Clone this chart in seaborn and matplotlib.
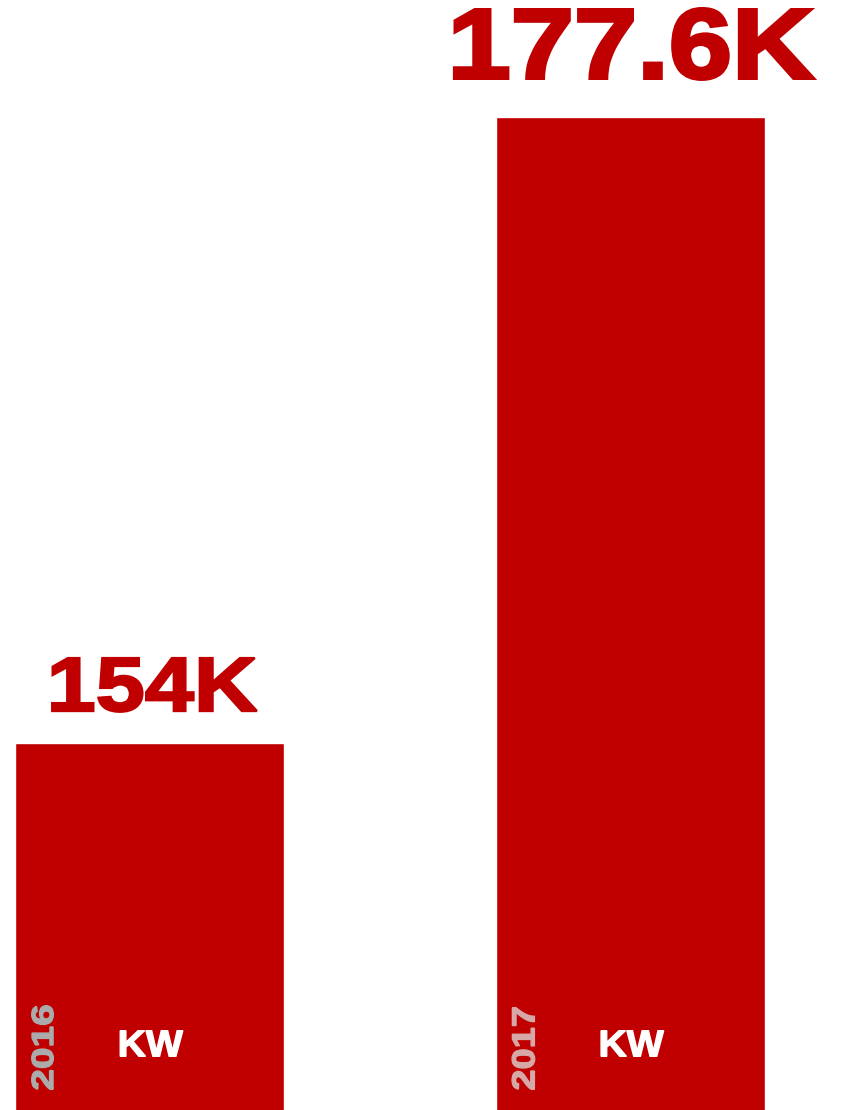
import matplotlib
matplotlib.use("Agg")
import matplotlib.pyplot as plt
import matplotlib.transforms as mtransforms
from matplotlib.font_manager import FontProperties
from matplotlib.patches import PathPatch
from matplotlib.textpath import TextPath
import pandas as pd
import seaborn as sns

# data
years = ["2016", "2017"]
values = [154.0, 177.6]          # thousands of kW
value_labels = ["154K", "177.6K"]
unit_label = "KW"

RED = "#C00000"
YEAR_COLORS = ["#ABABAB", "#D6A8A8"]

df = pd.DataFrame({"year": years, "kw": values})

sns.set_theme(style="white")
plt.rcParams["font.family"] = ["Liberation Sans", "DejaVu Sans"]

fig = plt.figure(figsize=(8.41, 11.10), dpi=100)
ax = fig.add_axes([0, 0, 1, 1])

sns.barplot(data=df, x="year", y="kw", order=years, color=RED,
            saturation=1, width=0.559, ax=ax)

ax.set_ylim(140.16, 182.01)
ax.set_xlim(-0.311, 1.438)
ax.axis("off")

bold = FontProperties(family="Liberation Sans", weight="bold")


def boxed_word(text, x, y, base, dx, dy, w, h, color, rot=0, lw=1.2):
    # heavy lettering: bold glyph outlines stretched into a w x h pixel box
    tp = TextPath((0, 0), text, size=100, prop=bold)
    ext = tp.get_extents()
    pad = lw * 100 / 72  # stroke width in pixels
    t = (mtransforms.Affine2D()
         .translate(-ext.x0 - ext.width / 2, -ext.y0 - ext.height / 2)
         .scale((w - pad) / ext.width, (h - pad) / ext.height)
         .rotate_deg(rot)
         .translate(dx, dy)
         + mtransforms.ScaledTranslation(x, y, base))
    ax.add_patch(PathPatch(tp, transform=t, facecolor=color, edgecolor=color,
                           lw=lw, joinstyle="miter", clip_on=False))


bottom = mtransforms.blended_transform_factory(ax.transData, ax.transAxes)

# value labels above the bars (pixel box sizes/offsets from bar top)
label_boxes = [(5, 58, 207, 56), (3.5, 73, 362, 74)]
label_strokes = [1.7, 2.6]
year_boxes = [(85, 23, 62.5), (83, 24, 61.5)]

for i, (v, lab) in enumerate(zip(values, value_labels)):
    dx, dy, w, h = label_boxes[i]
    boxed_word(lab, i, v, ax.transData, dx, dy, w, h, RED, lw=label_strokes[i])
    yw, yh, ydy = year_boxes[i]
    boxed_word(years[i], i, 0, bottom, -107, ydy, yw, yh, YEAR_COLORS[i],
               rot=90, lw=1.0)
    boxed_word(unit_label, i, 0, bottom, 2, 66.5, 64, 27, "white", lw=1.0)

fig.savefig("out.png", dpi=100)
